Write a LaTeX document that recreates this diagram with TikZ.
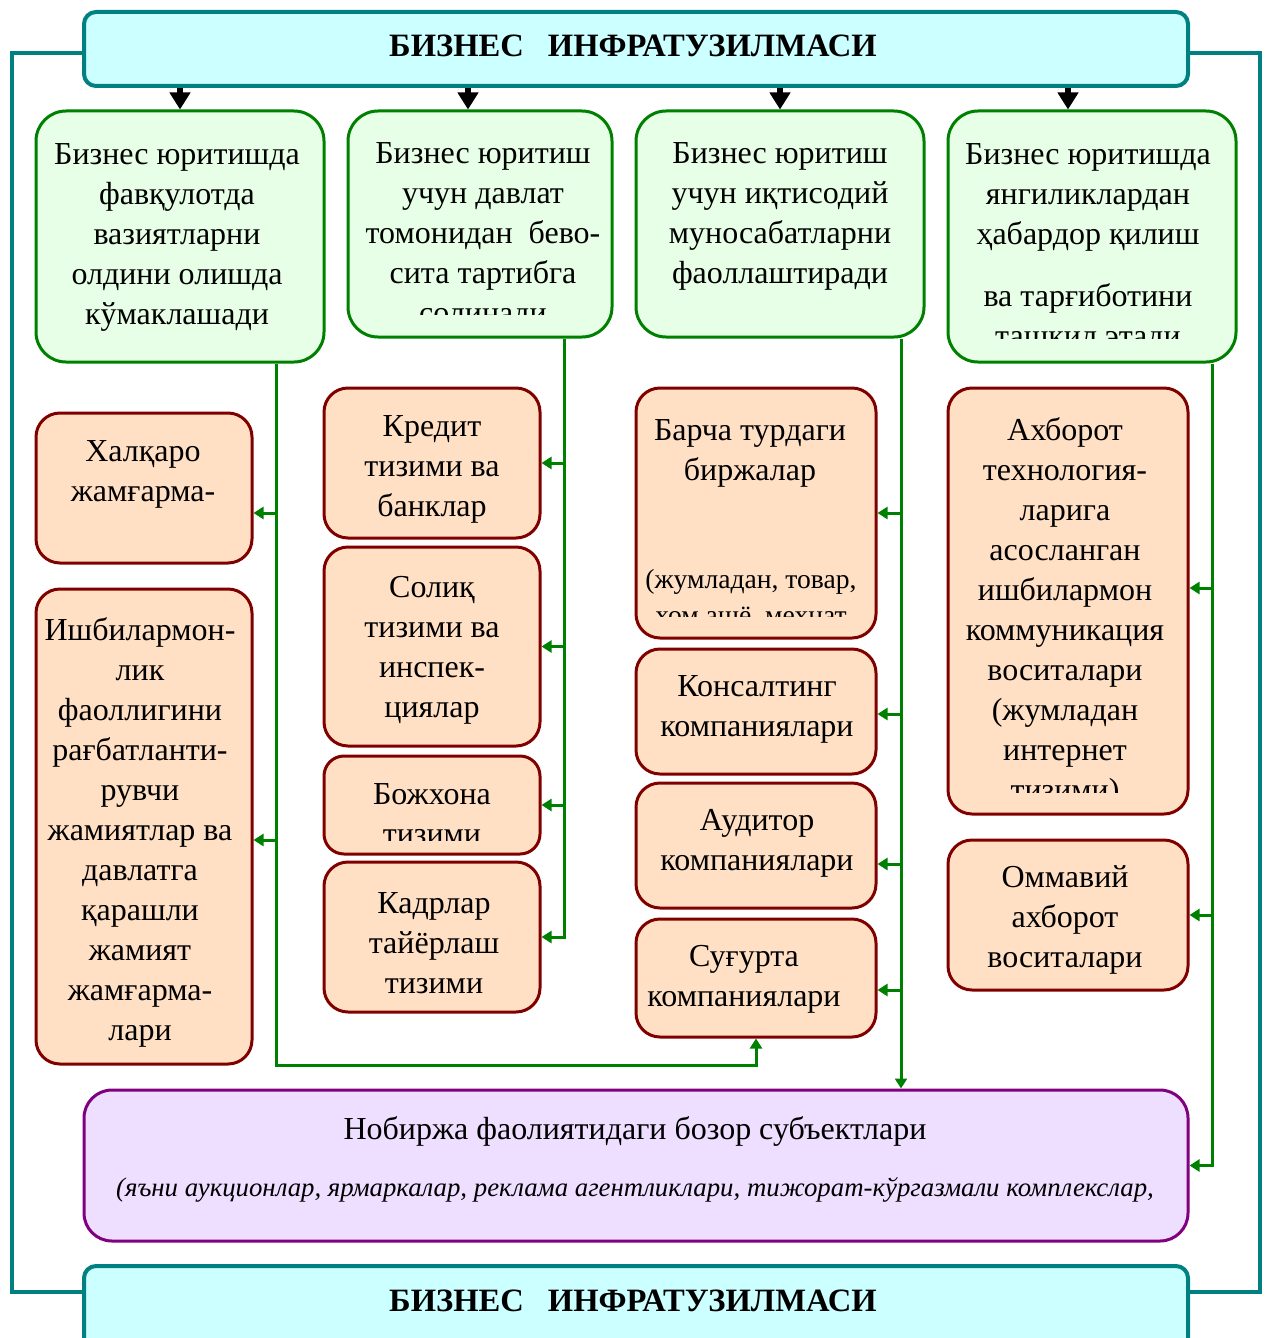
\documentclass[tikz,border=0pt]{standalone}
\usepackage{fontspec}
\setmainfont{Liberation Serif}
\usetikzlibrary{fit,arrows.meta}
\definecolor{tealc}{RGB}{0,128,128}
\definecolor{bannerfill}{RGB}{204,255,255}
\definecolor{gfill}{RGB}{230,255,230}
\definecolor{glinec}{RGB}{0,128,0}
\definecolor{ofill}{RGB}{255,224,196}
\definecolor{olinec}{RGB}{128,0,0}
\definecolor{pfill}{RGB}{238,222,255}
\definecolor{plinec}{RGB}{128,0,128}
\begin{document}
\begin{tikzpicture}[x=0.5pt,y=-0.5pt,
 banner/.style={draw=tealc, line width=2pt, fill=bannerfill, rounded corners=6pt, inner sep=0pt},
 gbox/.style={draw=glinec, line width=1.5pt, fill=gfill, rounded corners=15pt, inner sep=0pt},
 obox/.style={draw=olinec, line width=1.5pt, fill=ofill, rounded corners=12pt, inner sep=0pt},
 pbox/.style={draw=plinec, line width=1.5pt, fill=pfill, rounded corners=14pt, inner sep=0pt},
 txt/.style={align=center, inner sep=0pt, font=\fontsize{16}{20}\selectfont},
 ttl/.style={inner sep=0pt, font=\fontsize{16.3}{20}\selectfont\bfseries},
 tframe/.style={draw=tealc, line width=2pt},
 conn/.style={draw=glinec, line width=1.5pt},
 garr/.style={conn, -{Triangle[length=5pt,width=6pt]}},
 barr/.style={draw=black, line width=3pt, -{Triangle[length=8.5pt,width=10pt]}},
]
\clip (0,0) rectangle (1265,1338);

% banners
\node[banner, fit={(84,12) (1188,86)}] (top) {};
\node[ttl] (toptxt) at (633,46) {БИЗНЕС\hspace*{12pt}ИНФРАТУЗИЛМАСИ};
\node[banner, fit={(84,1266) (1188,1360)}] (bot) {};
\node[ttl] (bottxt) at (633,1301) {БИЗНЕС\hspace*{12pt}ИНФРАТУЗИЛМАСИ};

% outer frame
\draw[tframe] (top.west |- 0,53) -- (12,53) -- (12,1292) -- (bot.west |- 0,1292);
\draw[tframe] (top.east |- 0,53) -- (1260,53) -- (1260,1292) -- (bot.east |- 0,1292);

% green boxes
\node[gbox, fit={(36,111) (324,362)}] (g1) {};
\node[gbox, fit={(348,111) (612,337)}] (g2) {};
\node[gbox, fit={(636,111) (924,337)}] (g3) {};
\node[gbox, fit={(948,111) (1236,362)}] (g4) {};

\node[txt] (g1t) at (177,237) {Бизнес юритишда\\фавқулотда\\вазиятларни\\олдини олишда\\кўмаклашади};
\begin{scope}
\clip (348,111) rectangle (612,314);
\node[txt] (g2t) at (483,236) {Бизнес юритиш\\учун давлат\\томонидан\ \ бево-\\сита тартибга\\солинади};
\end{scope}
\node[txt] (g3t) at (780,216) {Бизнес юритиш\\учун иқтисодий\\муносабатларни\\фаоллаштиради};
\node[txt] (g4ta) at (1088,197) {Бизнес юритишда\\янгиликлардан\\ҳабардор қилиш};
\begin{scope}
\clip (948,111) rectangle (1236,338);
\node[txt] (g4tb) at (1088,318) {ва тарғиботини\\ташкил этади};
\end{scope}

% orange boxes
\node[obox, fit={(36,413) (252,563)}] (halq) {};
\node[txt] (halqt) at (143,474) {Халқаро\\жамғарма-};
\node[obox, fit={(36,589) (252,1064)}] (ishb) {};
\node[txt] (ishbt) at (140,832) {Ишбилармон-\\лик\\фаоллигини\\рағбатланти-\\рувчи\\жамиятлар ва\\давлатга\\қарашли\\жамият\\жамғарма-\\лари};

\node[obox, fit={(324,388) (540,538)}] (kred) {};
\node[txt] (kredt) at (432,469) {Кредит\\тизими ва\\банклар};
\node[obox, fit={(324,547) (540,746)}] (solik) {};
\node[txt] (solikt) at (432,650) {Солиқ\\тизими ва\\инспек-\\циялар};
\node[obox, rounded corners=10pt, fit={(324,756) (540,854)}] (boj) {};
\begin{scope}
\clip (324,756) rectangle (540,840);
\node[txt] (bojt) at (432,814) {Божхона\\тизими};
\end{scope}
\node[obox, fit={(324,862) (540,1012)}] (kadr) {};
\node[txt] (kadrt) at (434,943) {Кадрлар\\тайёрлаш\\тизими};

\node[obox, fit={(636,388) (876,638)}] (barch) {};
\node[txt] (barta) at (750,453) {Барча турдаги\\биржалар};
\begin{scope}
\clip (636,388) rectangle (876,616);
\node[txt, font=\fontsize{13.8}{18}\selectfont] (bartb) at (751,599) {(жумладан, товар,\\хом ашё, мехнат};
\end{scope}
\node[obox, fit={(636,649) (876,774)}] (kons) {};
\node[txt] (konst) at (757,709) {Консалтинг\\компаниялари};
\node[obox, fit={(636,783) (876,908)}] (aud) {};
\node[txt] (audt) at (757,843) {Аудитор\\компаниялари};
\node[obox, fit={(636,919) (876,1037)}] (sug) {};
\node[txt] (sugt) at (744,979) {Суғурта\\компаниялари};

\node[obox, fit={(948,388) (1188,814)}] (axb) {};
\begin{scope}
\clip (948,388) rectangle (1188,792);
\node[txt] (axbt) at (1065,612) {Ахборот\\технология-\\ларига\\асосланган\\ишбилармон\\коммуникация\\воситалари\\(жумладан\\интернет\\тизими)};
\end{scope}
\node[obox, fit={(948,840) (1188,990)}] (omm) {};
\node[txt] (ommt) at (1065,920) {Оммавий\\ахборот\\воситалари};

% purple box
\node[pbox, fit={(84,1090) (1188,1241)}] (nob) {};
\node[txt] (nobt1) at (635,1131) {Нобиржа фаолиятидаги бозор субъектлари};
\node[txt, font=\fontsize{13.4}{18}\selectfont\itshape] (nobt2) at (635,1190) {(яъни аукционлар, ярмаркалар, реклама агентликлари, тижорат-кўргазмали комплекслар,};

% black arrows
\draw[barr] (top.south -| 180,0) -- (g1.north -| 180,0);
\draw[barr] (top.south -| 468,0) -- (g2.north -| 468,0);
\draw[barr] (top.south -| 780,0) -- (g3.north -| 780,0);
\draw[barr] (top.south -| 1068,0) -- (g4.north -| 1068,0);

% trunk 1
\coordinate (c1) at (g1.south -| 276,0);
\draw[garr] (c1) -- (c1 |- 0,1065) -| (sug.south);
\draw[garr] (c1 |- 0,513) -- (halq.east |- 0,513);
\draw[garr] (c1 |- 0,840) -- (ishb.east |- 0,840);

% trunk 2
\coordinate (c2) at (g2.south -| 564,0);
\draw[garr] (c2) |- (kadr.east);
\draw[garr] (c2 |- kred.east) -- (kred.east);
\draw[garr] (c2 |- solik.east) -- (solik.east);
\draw[garr] (c2 |- boj.east) -- (boj.east);

% trunk 3
\coordinate (c3) at (g3.south -| 901,0);
\draw[garr] (c3) -- (c3 |- nob.north);
\draw[garr] (c3 |- barch.east) -- (barch.east);
\draw[garr] (c3 |- 0,714) -- (kons.east |- 0,714);
\draw[garr] (c3 |- 0,864) -- (aud.east |- 0,864);
\draw[garr] (c3 |- 0,990) -- (sug.east |- 0,990);

% trunk 4
\coordinate (c4) at (g4.south -| 1212,0);
\draw[garr] (c4) |- (nob.east);
\draw[garr] (c4 |- 0,588) -- (axb.east |- 0,588);
\draw[garr] (c4 |- omm.east) -- (omm.east);
\end{tikzpicture}
\end{document}
